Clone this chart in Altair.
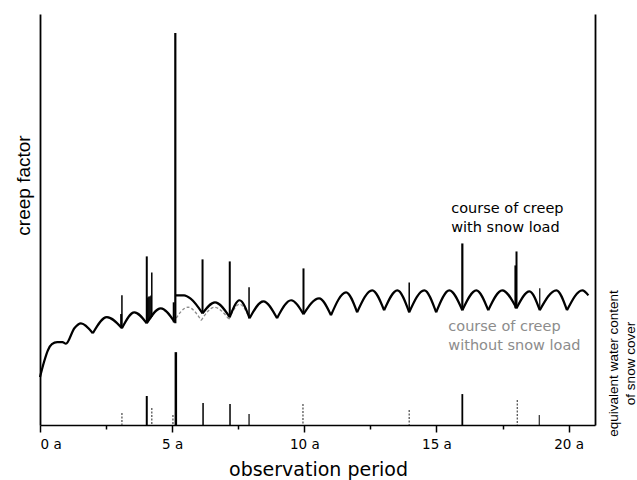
import altair as alt
import pandas as pd

# ---------------- data ----------------
# creep course WITH snow load: arches between annual troughs (segment ids)
CREEP_T = [0, 0.15, 0.3, 0.45, 0.65, 0.85, 0.98, 1.3, 1.55, 2.0,
           2.0, 2.53, 3.1,
           3.1, 3.57, 4.04,
           4.04, 4.57, 5.1,
           5.13, 5.45, 5.7, 6.15,
           6.15, 6.62, 7.18,
           7.18, 7.55, 7.93,
           7.93, 8.45, 8.97,
           8.97, 9.5, 9.97,
           9.97, 10.56, 11.01,
           11.01, 11.58, 12.0,
           12.0, 12.57, 13.02,
           13.02, 13.52, 13.97,
           13.97, 14.54, 14.99,
           14.99, 15.49, 15.98,
           15.98, 16.51, 16.96,
           16.96, 17.49, 18.03,
           18.03, 18.52, 18.91,
           18.91, 19.54, 19.94,
           19.94, 20.52, 20.75]
CREEP_V = [0.466, 0.612, 0.728, 0.786, 0.806, 0.806, 0.791, 0.942, 0.990, 0.893,
           0.893, 1.049, 0.942,
           0.942, 1.097, 0.990,
           0.990, 1.136, 1.000,
           1.262, 1.262, 1.230, 1.087,
           1.087, 1.194, 1.049,
           1.049, 1.214, 1.039,
           1.039, 1.204, 1.039,
           1.039, 1.214, 1.078,
           1.078, 1.233, 1.068,
           1.068, 1.291, 1.097,
           1.097, 1.311, 1.117,
           1.117, 1.311, 1.097,
           1.097, 1.311, 1.097,
           1.097, 1.311, 1.117,
           1.117, 1.311, 1.117,
           1.117, 1.311, 1.136,
           1.136, 1.301, 1.117,
           1.117, 1.311, 1.117,
           1.117, 1.311, 1.262]
CREEP_SEG = [0] * 10 + [1] * 3 + [2] * 3 + [3] * 3 + [4] * 4 + \
            [k for k in range(5, 20) for _ in range(3)]

# creep course WITHOUT snow load (where it departs from the other curve)
FREE_T = [5.05, 5.6, 6.1, 6.1, 6.6, 7.15, 7.15, 7.55, 7.93]
FREE_V = [1.000, 1.146, 1.019, 1.019, 1.146, 1.029, 1.029, 1.175, 1.039]
FREE_SEG = [0, 0, 0, 1, 1, 1, 2, 2, 2]

# creep jumps caused by snow load events
JUMP_T = [3.07, 3.10, 4.04, 4.08, 4.12, 4.16, 4.20, 4.23, 5.06, 5.12, 6.15,
          7.18, 7.91, 9.97, 13.97, 15.98, 18.00, 18.03, 18.91]
JUMP_LO = [0.96, 0.942, 0.990, 1.000, 1.020, 1.030, 1.040, 1.050, 1.000, 0.990,
           1.087, 1.049, 1.039, 1.078, 1.097, 1.117, 1.136, 1.136, 1.117]
JUMP_HI = [1.08, 1.262, 1.641, 1.240, 1.250, 1.250, 1.260, 1.485, 1.194, 3.816,
           1.612, 1.592, 1.340, 1.524, 1.388, 1.767, 1.553, 1.689, 1.330]
JUMP_W = [2, 1.5, 2, 1.5, 1.5, 1.5, 1.5, 1.5, 2, 2.2,
          2, 2, 1.5, 2, 1.5, 2.2, 2.6, 2, 1.2]

# equivalent water content of snow cover (right axis)
SWE_SOLID_T = [4.04, 5.14, 6.17, 7.19, 7.91, 15.98, 18.89]
SWE_SOLID_V = [0.282, 0.709, 0.214, 0.204, 0.107, 0.301, 0.097]
SWE_SOLID_W = [2, 2.5, 1.5, 1.5, 1.2, 1.8, 1.0]
SWE_DOT_T = [3.10, 4.23, 5.03, 9.95, 13.97, 18.06]
SWE_DOT_V = [0.117, 0.165, 0.097, 0.204, 0.146, 0.243]

X_TICKS = [0, 2.5, 5, 7.5, 10, 12.5, 15, 17.5, 20]

LABEL_WITH = ["course of creep", "with snow load"]
LABEL_WITH_T = [15.56, 15.56]
LABEL_WITH_V = [2.107, 1.913]
LABEL_FREE = ["course of creep", "without snow load"]
LABEL_FREE_T = [15.45, 15.45]
LABEL_FREE_V = [0.951, 0.767]

# ---------------- tables ----------------
creep = pd.DataFrame({"t": CREEP_T, "v": CREEP_V, "seg": CREEP_SEG})
free = pd.DataFrame({"t": FREE_T, "v": FREE_V, "seg": FREE_SEG})
jumps = pd.DataFrame({"t": JUMP_T, "lo": JUMP_LO, "hi": JUMP_HI, "w": JUMP_W})
swe_solid = pd.DataFrame({"t": SWE_SOLID_T, "v": SWE_SOLID_V, "w": SWE_SOLID_W})
swe_dot = pd.DataFrame({"t": SWE_DOT_T, "v": SWE_DOT_V})
lab_with = pd.DataFrame({"t": LABEL_WITH_T, "v": LABEL_WITH_V, "txt": LABEL_WITH})
lab_free = pd.DataFrame({"t": LABEL_FREE_T, "v": LABEL_FREE_V, "txt": LABEL_FREE})

HFONT = "DejaVu Sans"
VFONT = "Liberation Sans"

xscale = alt.Scale(domain=[0, 21], nice=False, zero=False)
yscale = alt.Scale(domain=[0, 4], nice=False)

xaxis = alt.Axis(
    values=X_TICKS,
    labelExpr="datum.value % 5 === 0 ? datum.value + ' a' : ''",
    tickSize={"condition": {"test": "datum.value % 5 === 0", "value": 7}, "value": 4},
    tickColor="black", tickWidth=1.5, domainColor="black", domainWidth=1.6,
    labelFont=HFONT, labelFontSize=13.5, labelColor="black", labelPadding=5,
    grid=False, title="observation period", titleFont=HFONT, titleFontSize=19,
    titleFontWeight="normal", titleColor="black", titleBaseline="alphabetic",
    titleX=278, titleY=50,
)
yaxis_left = alt.Axis(
    title="creep factor", labels=False, ticks=False, grid=False,
    domainColor="black", domainWidth=1.8,
    titleFont=VFONT, titleFontSize=19, titleFontWeight="normal", titleColor="black",
    titleX=-7, titleY=171, titleBaseline="bottom", titleAlign="center",
)
yaxis_right = alt.Axis(
    title=["equivalent water content", "of snow cover"], orient="right",
    labels=False, ticks=False, grid=False,
    domainColor="black", domainWidth=1.8,
    titleFont=VFONT, titleFontSize=13.5, titleFontWeight="normal", titleColor="black",
    titleAngle=270, titleAlign="center", titleBaseline="top", titleLineHeight=17,
    titleX=11, titleY=349,
)

X = alt.X("t:Q", scale=xscale, axis=xaxis)

line_with = alt.Chart(creep).mark_line(
    interpolate="monotone", color="black", strokeWidth=2.2
).encode(x=X, y=alt.Y("v:Q", scale=yscale, axis=yaxis_left), detail="seg:N")

line_free = alt.Chart(free).mark_line(
    interpolate="monotone", color="#8c8c8c", strokeWidth=1.3, strokeDash=[3, 2]
).encode(x=alt.X("t:Q"), y=alt.Y("v:Q"), detail="seg:N")

jump_rules = alt.Chart(jumps).mark_rule(color="black").encode(
    x=alt.X("t:Q"), y=alt.Y("lo:Q"), y2="hi:Q",
    strokeWidth=alt.StrokeWidth("w:Q", scale=None),
)

txt_with = alt.Chart(lab_with).mark_text(
    align="left", baseline="middle", font=HFONT, fontSize=14.5, color="black"
).encode(x=alt.X("t:Q"), y=alt.Y("v:Q"), text="txt:N")

txt_free = alt.Chart(lab_free).mark_text(
    align="left", baseline="middle", font=HFONT, fontSize=14.5, color="#8c8c8c"
).encode(x=alt.X("t:Q"), y=alt.Y("v:Q"), text="txt:N")

creep_layer = alt.layer(line_free, line_with, jump_rules, txt_with, txt_free)

swe_solid_rules = alt.Chart(swe_solid).mark_rule(color="black").encode(
    x=alt.X("t:Q", scale=xscale),
    y=alt.Y("v:Q", scale=yscale, axis=yaxis_right),
    y2=alt.datum(0),
    strokeWidth=alt.StrokeWidth("w:Q", scale=None),
)
swe_dot_rules = alt.Chart(swe_dot).mark_rule(
    color="#555555", strokeWidth=1.3, strokeDash=[2, 1.5]
).encode(x=alt.X("t:Q"), y=alt.Y("v:Q"), y2=alt.datum(0))

swe_layer = alt.layer(swe_solid_rules, swe_dot_rules)

chart = alt.layer(creep_layer, swe_layer).resolve_scale(y="independent").properties(
    width=555, height=411,
    autosize=alt.AutoSizeParams(type="none"),
    padding={"left": 40, "top": 14, "right": 42, "bottom": 55},
    background="white",
).configure_view(stroke=None)

chart.save("out.html", embed_options={"renderer": "svg", "actions": False})
